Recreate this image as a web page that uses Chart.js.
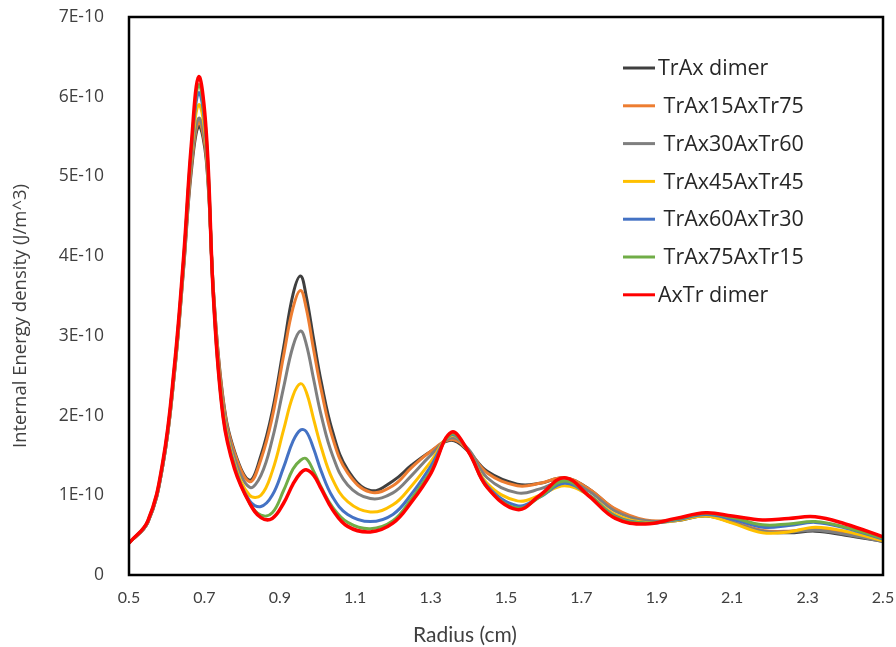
<!DOCTYPE html>
<html>
<head>
<meta charset="utf-8">
<script src="https://cdn.jsdelivr.net/npm/chart.js@4.4.0/dist/chart.umd.min.js"></script>
<style>
  html, body { margin: 0; padding: 0; background: #fff; }
</style>
</head>
<body>
<canvas id="chart" width="896" height="647"></canvas>
<script>
// Radius (cm)
const radius = [0.50, 0.55, 0.59, 0.62, 0.645, 0.665, 0.685, 0.705, 0.725, 0.75, 0.78, 0.82, 0.85, 0.88, 0.91, 0.935, 0.955, 0.97, 0.99, 1.01, 1.04, 1.08, 1.14, 1.20, 1.25, 1.30, 1.355, 1.40, 1.45, 1.53, 1.59, 1.655, 1.72, 1.79, 1.87, 1.95, 2.03, 2.10, 2.18, 2.25, 2.32, 2.40, 2.50];

// Internal energy density, in units of 1E-10 J/m^3
const trAxDimer = [0.40, 0.66, 1.38, 2.5, 3.85, 5.05, 5.63, 5.2, 3.5, 2.2, 1.55, 1.19, 1.5, 2.05, 2.85, 3.52, 3.75, 3.5, 2.95, 2.42, 1.8, 1.32, 1.06, 1.18, 1.38, 1.55, 1.69, 1.55, 1.3, 1.14, 1.15, 1.22, 1.08, 0.82, 0.68, 0.68, 0.74, 0.66, 0.55, 0.53, 0.55, 0.5, 0.42];
const trAx15 = [0.40, 0.66, 1.38, 2.5, 3.87, 5.1, 5.68, 5.25, 3.5, 2.18, 1.53, 1.17, 1.45, 1.98, 2.75, 3.35, 3.57, 3.35, 2.82, 2.32, 1.72, 1.28, 1.04, 1.12, 1.35, 1.55, 1.7, 1.56, 1.28, 1.12, 1.15, 1.22, 1.08, 0.83, 0.69, 0.69, 0.75, 0.67, 0.56, 0.55, 0.58, 0.53, 0.43];
const trAx30 = [0.40, 0.66, 1.38, 2.52, 3.9, 5.15, 5.73, 5.3, 3.45, 2.12, 1.47, 1.1, 1.25, 1.7, 2.35, 2.87, 3.06, 2.9, 2.45, 2.0, 1.5, 1.13, 0.96, 1.03, 1.25, 1.5, 1.72, 1.58, 1.22, 1.03, 1.08, 1.18, 1.05, 0.8, 0.68, 0.69, 0.75, 0.66, 0.55, 0.54, 0.56, 0.51, 0.42];
const trAx45 = [0.40, 0.67, 1.4, 2.55, 3.93, 5.25, 5.9, 5.38, 3.42, 2.05, 1.4, 1.0, 1.0, 1.3, 1.82, 2.25, 2.4, 2.3, 1.95, 1.6, 1.2, 0.92, 0.79, 0.88, 1.12, 1.42, 1.75, 1.55, 1.15, 0.93, 1.0, 1.12, 1.0, 0.76, 0.66, 0.68, 0.74, 0.65, 0.53, 0.54, 0.6, 0.55, 0.43];
const trAx60 = [0.40, 0.67, 1.4, 2.57, 3.95, 5.3, 6.05, 5.45, 3.4, 2.0, 1.37, 0.93, 0.86, 1.0, 1.35, 1.68, 1.82, 1.8, 1.58, 1.3, 0.98, 0.76, 0.67, 0.76, 1.02, 1.36, 1.76, 1.55, 1.12, 0.87, 0.98, 1.15, 1.0, 0.74, 0.65, 0.69, 0.76, 0.7, 0.6, 0.62, 0.66, 0.59, 0.45];
const trAx75 = [0.40, 0.68, 1.42, 2.58, 3.97, 5.33, 6.15, 5.5, 3.4, 1.98, 1.35, 0.9, 0.75, 0.78, 1.06, 1.33, 1.44, 1.46, 1.3, 1.1, 0.85, 0.66, 0.58, 0.68, 0.96, 1.3, 1.77, 1.55, 1.1, 0.84, 0.98, 1.18, 1.0, 0.73, 0.65, 0.7, 0.77, 0.72, 0.63, 0.64, 0.67, 0.6, 0.46];
const axTrDimer = [0.40, 0.68, 1.43, 2.6, 4.0, 5.38, 6.25, 5.55, 3.4, 1.97, 1.33, 0.9, 0.72, 0.71, 0.9, 1.14, 1.28, 1.32, 1.25, 1.08, 0.82, 0.61, 0.54, 0.65, 0.92, 1.27, 1.79, 1.55, 1.1, 0.82, 1.0, 1.22, 0.99, 0.71, 0.64, 0.71, 0.78, 0.74, 0.69, 0.71, 0.73, 0.64, 0.48];

const seriesNames = ['TrAx dimer', ' TrAx15AxTr75', ' TrAx30AxTr60', ' TrAx45AxTr45', ' TrAx60AxTr30', ' TrAx75AxTr15', 'AxTr dimer'];
const seriesValues = [trAxDimer, trAx15, trAx30, trAx45, trAx60, trAx75, axTrDimer];
const seriesColors = ['#3f3f3f', '#ed7d31', '#7f7f7f', '#ffc000', '#4472c4', '#70ad47', '#ff0000'];

const xTicks = [0.5, 0.7, 0.9, 1.1, 1.3, 1.5, 1.7, 1.9, 2.1, 2.3, 2.5];
const yTicks = [0, 1, 2, 3, 4, 5, 6, 7];
const yTickLabels = ['0', '1E-10', '2E-10', '3E-10', '4E-10', '5E-10', '6E-10', '7E-10'];

const datasets = seriesNames.map((name, i) => ({
  label: name,
  data: radius.map((r, j) => ({ x: r, y: seriesValues[i][j] })),
  borderColor: seriesColors[i],
  backgroundColor: seriesColors[i],
  borderWidth: i === 6 ? 3.5 : 3,
  pointRadius: 0,
  tension: 0.4,
  order: seriesNames.length - i
}));

// frame, axis titles and the legend inside the plot
const decorations = {
  id: 'decorations',
  afterDraw(chart) {
    const ctx = chart.ctx;
    const a = chart.chartArea;
    ctx.save();
    ctx.strokeStyle = '#000';
    ctx.lineWidth = 2.5;
    ctx.strokeRect(a.left, a.top, a.right - a.left, a.bottom - a.top);

    ctx.fillStyle = '#404040';
    ctx.textAlign = 'center';
    ctx.textBaseline = 'middle';
    ctx.font = '21px Lato';
    ctx.fillText('Radius (cm)', 465, 635);

    ctx.save();
    ctx.translate(21, 316);
    ctx.rotate(-Math.PI / 2);
    ctx.font = '18.5px "Open Sans"';
    ctx.fillText('Internal Energy density (J/m^3)', 0, 0);
    ctx.restore();

    ctx.textAlign = 'left';
    ctx.font = '21.5px "Open Sans"';
    chart.data.datasets.forEach((ds, i) => {
      const y = 68 + i * 37.8;
      ctx.strokeStyle = ds.borderColor;
      ctx.lineWidth = 3;
      ctx.beginPath();
      ctx.moveTo(623, y);
      ctx.lineTo(655, y);
      ctx.stroke();
      ctx.fillStyle = '#262626';
      ctx.fillText(ds.label, 658, y + 1);
    });
    ctx.restore();
  }
};

new Chart(document.getElementById('chart'), {
  type: 'line',
  data: { datasets },
  options: {
    responsive: false,
    devicePixelRatio: 1,
    animation: false,
    layout: { padding: { top: 17, right: 13, left: 0, bottom: 0 } },
    plugins: { legend: { display: false }, tooltip: { enabled: false } },
    scales: {
      x: {
        type: 'linear',
        min: 0.5,
        max: 2.5,
        grid: { display: false, drawTicks: false },
        border: { display: false },
        afterBuildTicks: s => { s.ticks = xTicks.map(v => ({ value: v })); },
        afterFit: s => { s.height = 72; s.paddingLeft = 0; s.paddingRight = 0; },
        ticks: {
          padding: 13,
          color: '#404040',
          font: { family: 'Lato', size: 16 },
          maxRotation: 0,
          callback: v => v.toFixed(1)
        }
      },
      y: {
        min: 0,
        max: 7,
        grid: { display: false, drawTicks: false },
        border: { display: false },
        afterBuildTicks: s => { s.ticks = yTicks.map(v => ({ value: v })); },
        afterFit: s => { s.width = 129; s.paddingTop = 0; s.paddingBottom = 0; },
        ticks: {
          padding: 25,
          color: '#404040',
          font: { family: 'Open Sans', size: 17.5 },
          callback: v => yTickLabels[yTicks.indexOf(v)]
        }
      }
    }
  },
  plugins: [decorations]
});
</script>
</body>
</html>
